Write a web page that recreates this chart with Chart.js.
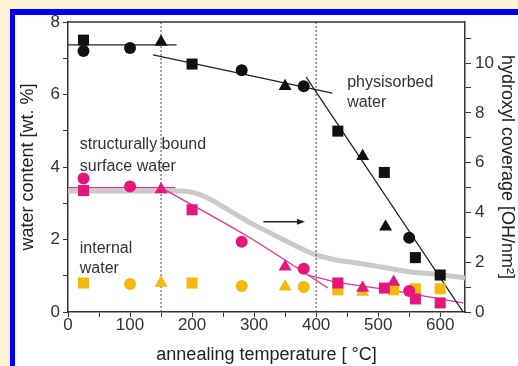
<!DOCTYPE html>
<html>
<head>
<meta charset="utf-8">
<script src="https://cdn.jsdelivr.net/npm/chart.js@4.4.0/dist/chart.umd.min.js"></script>
<style>
  html, body { margin: 0; padding: 0; background: #fcf1d7; }
  body { width: 518px; height: 366px; position: relative; overflow: hidden; }
  #frame { position: absolute; left: 10px; top: 9px; right: 0; bottom: 0; background: #fff;
           border-top: 6px solid #0000f5; border-left: 5px solid #0000f5; }
  #myChart { position: absolute; left: 0; top: 0; }
</style>
</head>
<body>
<div id="frame"></div>
<canvas id="myChart" width="518" height="366"></canvas>
<script>
// black: total water (physisorbed + bound)
const blackSqT = [25, 200, 435, 510, 560, 600];
const blackSqW = [7.5, 6.84, 4.99, 3.85, 1.5, 1.02];
const blackCirT = [25, 100, 280, 380, 550];
const blackCirW = [7.2, 7.28, 6.67, 6.23, 2.05];
const blackTriT = [150, 350, 475, 512];
const blackTriW = [7.45, 6.23, 4.3, 2.35];

// pink: structurally bound surface water
const pinkSqT = [25, 200, 435, 510, 560, 600];
const pinkSqW = [3.35, 2.82, 0.8, 0.66, 0.36, 0.25];
const pinkCirT = [25, 100, 280, 380, 550];
const pinkCirW = [3.68, 3.46, 1.94, 1.19, 0.58];
const pinkTriT = [150, 350, 475, 525];
const pinkTriW = [3.38, 1.25, 0.66, 0.83];

// yellow: internal water
const yellowSqT = [25, 200, 435, 525, 560, 600];
const yellowSqW = [0.8, 0.8, 0.61, 0.61, 0.64, 0.64];
const yellowCirT = [100, 280, 380];
const yellowCirW = [0.77, 0.72, 0.69];
const yellowTriT = [150, 350, 475];
const yellowTriW = [0.8, 0.7, 0.55];

// fit lines
const blackFit1T = [0, 175], blackFit1W = [7.37, 7.37];
const blackFit2T = [137, 426], blackFit2W = [7.09, 6.04];
const blackFit3T = [384, 637], blackFit3W = [6.48, 0];
const pinkFit1T = [0, 173], pinkFit1W = [3.43, 3.43];
const pinkFit2T = [150, 293, 419], pinkFit2W = [3.43, 2.05, 0.66];
const pinkFit3T = [387, 435, 519, 600, 637], pinkFit3W = [1.02, 0.82, 0.61, 0.36, 0.25];

// hydroxyl coverage (right axis)
const ohT = [0, 184, 300, 380, 401, 430, 466, 519, 547, 600, 640];
const ohCov = [4.86, 4.86, 3.5, 2.5, 2.28, 2.1, 1.97, 1.75, 1.63, 1.5, 1.37];

const markerT = [150, 400];
const arrowT = [315, 382], arrowW = 2.49;

const notes = [
    { text: 'physisorbed', t: 450, w: 6.34 },
    { text: 'water', t: 450, w: 5.79 },
    { text: 'structurally bound', t: 19, w: 4.63 },
    { text: 'surface water', t: 19, w: 4.02 },
    { text: 'internal', t: 19, w: 1.75 },
    { text: 'water', t: 19, w: 1.19 }
];

const BLACK = '#111', PINK = '#e5177c', YELLOW = '#f6b80c';
const FONT = '"Liberation Sans", Arial, sans-serif';

const pts = (xs, ys) => xs.map((x, i) => ({ x: x, y: ys[i] }));

function marks(xs, ys, color, style, order) {
    const r = style === 'rect' ? 7.8 : style === 'triangle' ? 7.5 : 6;
    return {
        data: pts(xs, ys), showLine: false, pointStyle: style, pointRadius: r,
        backgroundColor: color, borderColor: color, borderWidth: 0, order: order
    };
}
function fit(xs, ys, color, width, order, axis) {
    return {
        data: pts(xs, ys), showLine: true, pointRadius: 0, borderColor: color,
        borderWidth: width, cubicInterpolationMode: 'monotone', order: order, yAxisID: axis || 'y'
    };
}

const datasets = [
    marks(blackSqT, blackSqW, BLACK, 'rect', 1),
    marks(blackCirT, blackCirW, BLACK, 'circle', 1),
    marks(blackTriT, blackTriW, BLACK, 'triangle', 1),
    marks(pinkSqT, pinkSqW, PINK, 'rect', 2),
    marks(pinkCirT, pinkCirW, PINK, 'circle', 2),
    marks(pinkTriT, pinkTriW, PINK, 'triangle', 2),
    marks(yellowSqT, yellowSqW, YELLOW, 'rect', 3),
    marks(yellowCirT, yellowCirW, YELLOW, 'circle', 3),
    marks(yellowTriT, yellowTriW, YELLOW, 'triangle', 3),
    fit(blackFit1T, blackFit1W, '#222', 1.3, 4),
    fit(blackFit2T, blackFit2W, '#222', 1.3, 4),
    fit(blackFit3T, blackFit3W, '#222', 1.3, 4),
    fit(pinkFit1T, pinkFit1W, '#e2358a', 1.3, 4),
    fit(pinkFit2T, pinkFit2W, '#e2358a', 1.3, 4),
    fit(pinkFit3T, pinkFit3W, '#e2358a', 1.3, 4),
    fit(ohT, ohCov, '#cacaca', 5, 6, 'y2')
];
markerT.forEach(t => {
    datasets.push({
        data: pts([t, t], [0, 8]), showLine: true, pointRadius: 0, borderColor: '#444',
        borderWidth: 1, borderDash: [2, 2], order: 5
    });
});

const extras = {
    id: 'extras',
    afterDatasetsDraw(chart) {
        const { ctx, chartArea, scales } = chart;
        ctx.save();
        // top frame line
        ctx.strokeStyle = '#333';
        ctx.lineWidth = 1.5;
        ctx.beginPath();
        ctx.moveTo(chartArea.left, chartArea.top);
        ctx.lineTo(chartArea.right, chartArea.top);
        ctx.stroke();
        // arrow pointing to right axis
        const x1 = scales.x.getPixelForValue(arrowT[0]);
        const x2 = scales.x.getPixelForValue(arrowT[1]);
        const ay = scales.y.getPixelForValue(arrowW);
        ctx.strokeStyle = '#222';
        ctx.fillStyle = '#222';
        ctx.lineWidth = 1.3;
        ctx.beginPath();
        ctx.moveTo(x1, ay);
        ctx.lineTo(x2 - 6, ay);
        ctx.stroke();
        ctx.beginPath();
        ctx.moveTo(x2, ay);
        ctx.lineTo(x2 - 8, ay - 3);
        ctx.lineTo(x2 - 8, ay + 3);
        ctx.closePath();
        ctx.fill();
        // labels
        ctx.font = '16px ' + FONT;
        ctx.fillStyle = '#333';
        ctx.textBaseline = 'middle';
        ctx.textAlign = 'left';
        notes.forEach(n => {
            ctx.fillText(n.text, scales.x.getPixelForValue(n.t), scales.y.getPixelForValue(n.w));
        });
        ctx.restore();
    }
};

const ctx = document.getElementById('myChart').getContext('2d');
const tickFont = { family: FONT, size: 17 };
const titleFont = { family: FONT, size: 18 };

let chart = new Chart(ctx, {
    type: 'scatter',
    data: { datasets: datasets },
    options: {
        responsive: false,
        animation: false,
        layout: { padding: { top: 22, left: 0, right: 0, bottom: 0 } },
        plugins: { legend: { display: false }, tooltip: { enabled: false } },
        scales: {
            x: {
                type: 'linear', min: 0, max: 640,
                afterFit: s => { s.height = 54; },
                border: { color: '#333', width: 1.5 },
                grid: { drawOnChartArea: false, tickLength: 5, color: '#333' },
                ticks: {
                    stepSize: 50, includeBounds: false, autoSkip: false, maxRotation: 0,
                    padding: -2, color: '#333', font: tickFont,
                    callback: v => (v % 100 === 0 ? v : '')
                },
                title: { display: true, text: 'annealing temperature [ °C]', color: '#222', font: titleFont, padding: { top: 1, bottom: 0 } }
            },
            y: {
                position: 'left', min: 0, max: 8,
                afterFit: s => { s.width = 68; },
                border: { color: '#333', width: 1.5 },
                grid: { drawOnChartArea: false, tickLength: 5, color: '#333' },
                ticks: {
                    stepSize: 1, includeBounds: false, padding: 3, color: '#333', font: tickFont,
                    callback: v => (v % 2 === 0 ? v : '')
                },
                title: { display: true, text: 'water content [wt. %]', color: '#222', font: titleFont, padding: { top: 17, bottom: 0 } }
            },
            y2: {
                position: 'right', min: 0, max: 11.65,
                afterFit: s => { s.width = 53; },
                border: { color: '#333', width: 1.5 },
                grid: { drawOnChartArea: false, tickLength: 6, color: '#333' },
                ticks: {
                    stepSize: 1, includeBounds: false, padding: 4, color: '#333', font: tickFont,
                    callback: v => (v % 2 === 0 ? v : '')
                },
                title: { display: true, text: 'hydroxyl coverage [OH/nm²]', color: '#222', font: titleFont, padding: { top: 0, bottom: 0 } }
            }
        }
    },
    plugins: [extras]
});
</script>
</body>
</html>
